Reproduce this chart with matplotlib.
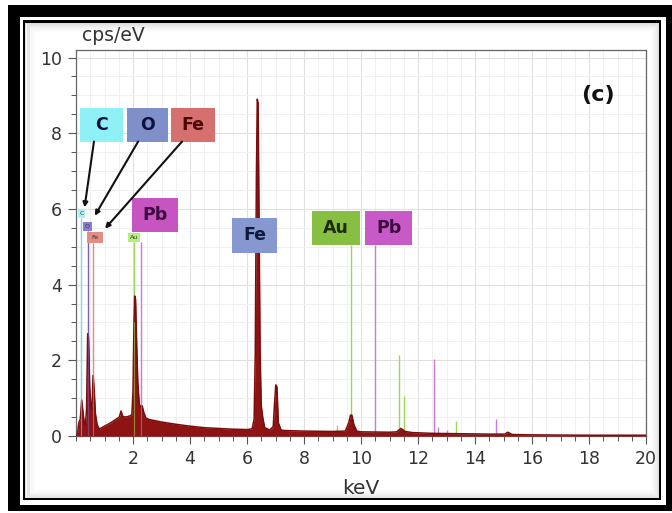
import numpy as np
import matplotlib
matplotlib.use("Agg")
import matplotlib.pyplot as plt
from matplotlib.patches import Rectangle

# ---- spectrum (keV, cps/eV) ----
energy_kev = [0.00, 0.05, 0.10, 0.15, 0.20, 0.25, 0.29, 0.33, 0.37, 0.41, 0.44,
              0.48, 0.52, 0.56, 0.60, 0.64, 0.68, 0.74, 0.82, 0.90, 1.00, 1.20,
              1.40, 1.52, 1.58, 1.64, 1.72, 1.85, 1.96, 2.00, 2.03, 2.06, 2.09,
              2.13, 2.17, 2.22, 2.27, 2.32, 2.38, 2.45, 2.55, 2.80, 3.00, 3.50,
              4.00, 4.50, 5.00, 5.50, 6.00, 6.18, 6.25, 6.29, 6.33, 6.36, 6.39,
              6.42, 6.46, 6.50, 6.55, 6.62, 6.80, 6.92, 6.97, 7.01, 7.05, 7.10,
              7.20, 7.50, 8.00, 9.00, 9.45, 9.57, 9.63, 9.68, 9.75, 9.85, 10.00,
              11.00, 11.25, 11.40, 11.55, 11.80, 12.50, 13.50, 14.50, 15.05,
              15.15, 15.30, 16.00, 18.00, 20.00]
cps_per_ev = [0.00, 0.05, 0.35, 0.45, 0.95, 0.60, 0.35, 0.30, 0.70, 2.70, 2.60,
              1.30, 0.80, 0.70, 1.60, 1.20, 0.60, 0.30, 0.18, 0.22, 0.26, 0.34,
              0.44, 0.50, 0.66, 0.52, 0.50, 0.52, 0.56, 1.20, 2.80, 3.70, 3.60,
              2.40, 1.40, 0.85, 0.75, 0.80, 0.62, 0.48, 0.44, 0.40, 0.37, 0.31,
              0.26, 0.22, 0.20, 0.18, 0.17, 0.19, 0.45, 2.20, 6.90, 8.90, 8.80,
              6.00, 2.10, 0.80, 0.50, 0.22, 0.16, 0.25, 0.90, 1.35, 1.30, 0.35,
              0.15, 0.14, 0.13, 0.12, 0.13, 0.35, 0.55, 0.55, 0.30, 0.13, 0.11,
              0.10, 0.11, 0.20, 0.12, 0.09, 0.07, 0.06, 0.05, 0.05,
              0.10, 0.04, 0.03, 0.02, 0.02]

# ---- element marker lines ----
marker_element = ["C", "O", "Fe", "Au", "Pb", "Au", "Pb", "Au", "Au", "Pb",
                  "Pb", "Pb", "Au", "Pb", "Au"]
marker_energy = [0.17, 0.42, 0.60, 2.05, 2.28, 9.66, 10.49, 11.35, 11.52, 12.55,
                 12.70, 13.00, 13.32, 14.72, 9.15]
marker_top = [5.77, 5.42, 5.11, 5.13, 5.13, 5.05, 5.05, 2.15, 1.05, 2.04,
              0.25, 0.15, 0.40, 0.45, 0.30]

element_line_color = {"C": "#7fd8e6", "O": "#7a5fb8", "Fe": "#e58a8a",
                      "Au": "#9ad65a", "Pb": "#cf79d6"}

# ---- element labels ----
big_label_text = ["C", "O", "Fe", "Pb", "Fe", "Au", "Pb"]
big_label_face = ["#8ff0f6", "#7f8fc9", "#d6706e", "#c655c2", "#8797cf",
                  "#86bf42", "#c85ac8"]
big_label_ink = ["#0e1040", "#0e1040", "#4a0808", "#3e0a40", "#0e1a40",
                 "#1e2a08", "#3e0a40"]
big_label_box = [(0.14, 1.65, 7.78, 8.68), (1.79, 3.23, 7.78, 8.68),
                 (3.33, 4.88, 7.78, 8.68), (1.96, 3.58, 5.40, 6.30),
                 (5.47, 7.05, 4.84, 5.77), (8.28, 9.98, 5.05, 5.95),
                 (10.14, 11.79, 5.05, 5.95)]

small_label_text = ["C", "O", "Fe", "Au"]
small_label_face = ["#aef2f6", "#8a7cd2", "#e48c84", "#b4f07a"]
small_label_box = [(0.07, 0.32, 5.77, 5.98), (0.25, 0.56, 5.42, 5.66),
                   (0.39, 0.95, 5.11, 5.40), (1.82, 2.25, 5.13, 5.37)]

arrow_from = [(0.63, 7.78), (2.18, 7.78), (3.72, 7.78)]
arrow_to = [(0.30, 6.04), (0.66, 5.82), (1.02, 5.48)]

x_ticks = [2, 4, 6, 8, 10, 12, 14, 16, 18, 20]
y_ticks = [0, 2, 4, 6, 8, 10]

W, H = 672, 513
fig = plt.figure(figsize=(W / 100, H / 100), dpi=100)
fig.patch.set_facecolor("white")


def px_rect(x0, y0, x1, y1, **kw):
    r = Rectangle((x0 / W, 1 - y1 / H), (x1 - x0) / W, (y1 - y0) / H,
                  transform=fig.transFigure, **kw)
    fig.add_artist(r)
    return r


# picture frame: heavy outer border, white gap, thin inner line
px_rect(8, 5, 672, 511, facecolor="black", edgecolor="none", zorder=-10)
px_rect(20, 17, 666, 505, facecolor="white", edgecolor="none", zorder=-9)
px_rect(23, 20, 661, 500, facecolor="black", edgecolor="none", zorder=-8)
px_rect(25.5, 22.5, 658.5, 497.5, facecolor="white", edgecolor="none", zorder=-7)
# soft inset shadow along the inner edge
for i in range(10):
    a = 0.13 * (1 - i / 10) ** 1.6
    px_rect(25.5 + i, 22.5 + i, 658.5 - i, 497.5 - i, facecolor="none",
            edgecolor=(0, 0, 0, a), lw=0.75, zorder=-6)

ax = fig.add_axes([76 / W, 1 - 436 / H, (646 - 76) / W, (436 - 50) / H])
ax.set_facecolor("white")
ax.set_xlim(0, 20)
ax.set_ylim(0, 10.2)

ax.set_xticks(x_ticks)
ax.set_xticks(np.arange(0, 20.01, 0.5), minor=True)
ax.set_yticks(y_ticks)
ax.set_yticks(np.arange(0, 10.21, 0.5), minor=True)
ax.grid(which="minor", color="#f0f0f0", lw=0.7, zorder=0)
ax.grid(which="major", color="#e0e0e0", lw=0.8, zorder=0)
ax.set_axisbelow(True)
ax.tick_params(which="major", length=6, width=0.8, color="#555555",
               labelsize=12.5, labelcolor="#333333", pad=4)
ax.tick_params(which="minor", length=3.5, width=0.7, color="#555555")
for s in ax.spines.values():
    s.set_color("#666666")
    s.set_linewidth(0.9)

# element marker lines
for el, e, top in zip(marker_element, marker_energy, marker_top):
    ax.vlines(e, 0, top, color=element_line_color[el], lw=1.0, zorder=2)

# spectrum
ax.fill_between(energy_kev, cps_per_ev, 0, color="#8e1414", lw=0, zorder=3)
ax.plot(energy_kev, cps_per_ev, color="#7a0c0c", lw=1.1, zorder=4)

# the low-energy marker lines are also seen over the spectrum
for el, e, top in zip(marker_element, marker_energy, marker_top):
    if e < 3:
        ax.vlines(e, 0, min(top, 3.0), color=element_line_color[el], lw=0.8,
                  alpha=0.6, zorder=5)

# labels
for t, fc, ink, (x0, x1, y0, y1) in zip(big_label_text, big_label_face,
                                        big_label_ink, big_label_box):
    ax.add_patch(Rectangle((x0, y0), x1 - x0, y1 - y0, facecolor=fc,
                           edgecolor="none", zorder=6))
    ax.text((x0 + x1) / 2, (y0 + y1) / 2, t, ha="center", va="center",
            fontsize=12.5, fontweight="bold", color=ink, zorder=7)

for t, fc, (x0, x1, y0, y1) in zip(small_label_text, small_label_face,
                                   small_label_box):
    ax.add_patch(Rectangle((x0, y0), x1 - x0, y1 - y0, facecolor=fc,
                           edgecolor="none", zorder=6))
    ax.text((x0 + x1) / 2, (y0 + y1) / 2, t, ha="center", va="center",
            fontsize=4.5, color="#303030", zorder=7)

for (xa, ya), (xb, yb) in zip(arrow_from, arrow_to):
    ax.annotate("", xy=(xb, yb), xytext=(xa, ya),
                arrowprops=dict(arrowstyle="-|>", color="#111111", lw=1.5,
                                mutation_scale=7, shrinkA=0, shrinkB=0),
                zorder=8)

ax.text(18.3, 9.0, "(c)", ha="center", va="center", fontsize=16,
        fontweight="bold", color="#111111", zorder=7)

ax.set_xlabel("keV", fontsize=14.5, color="#333333", labelpad=8)
fig.text(82 / W, 1 - 41 / H, "cps/eV", fontsize=13.5, color="#333333",
         ha="left", va="baseline")

fig.savefig("out.png", dpi=100)
